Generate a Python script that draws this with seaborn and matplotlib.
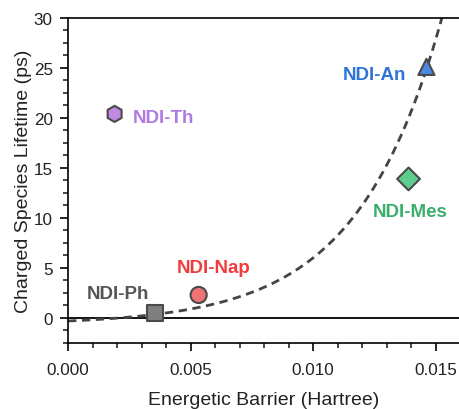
import numpy as np
import pandas as pd
import seaborn as sns
import matplotlib.pyplot as plt
from matplotlib.ticker import MultipleLocator

# data
molecules = ["NDI-Ph", "NDI-Nap", "NDI-Th", "NDI-An", "NDI-Mes"]
barrier = [0.00355, 0.00533, 0.0019, 0.01463, 0.0139]
lifetime = [0.5, 2.3, 20.4, 25.1, 13.9]
colors = ["#7f7f7f", "#f07272", "#c08ae3", "#4a88e6", "#5fcd8e"]
text_colors = ["#555555", "#f03c3c", "#b07be0", "#2f74d9", "#3aae6a"]
markers = ["s", "o", "h", "^", "D"]

# exponential fit y = a*exp(b*x) + c (parameters)
fit_a, fit_b, fit_c = 0.367, 290.0, -0.67

sns.set_style("ticks")
plt.rcParams["font.family"] = ["Liberation Sans", "DejaVu Sans"]

df = pd.DataFrame({"molecule": molecules, "barrier": barrier, "lifetime": lifetime})

fig = plt.figure(figsize=(4.6, 4.1), dpi=100)
ax = fig.add_axes([0.148, 0.161, 0.852, 0.793])

ax.axhline(0, color="black", lw=1.3, zorder=1)

xfit = np.linspace(0, 0.0158, 200)
fit = pd.DataFrame({"x": xfit, "y": fit_a * np.exp(fit_b * xfit) + fit_c})
sns.lineplot(data=fit, x="x", y="y", ax=ax, color="#444444", lw=2,
             linestyle=(0, (3, 2)), zorder=2)

sns.scatterplot(data=df, x="barrier", y="lifetime", hue="molecule", style="molecule",
                palette=dict(zip(molecules, colors)), markers=dict(zip(molecules, markers)),
                s=135, edgecolor="#4a4a4a", linewidth=1.5, ax=ax, legend=False, zorder=3)

# labels next to points
label_pos = {"NDI-Ph": (0.00078, 2.4, "left"), "NDI-Nap": (0.00445, 5.0, "left"),
             "NDI-Th": (0.00265, 20.0, "left"), "NDI-An": (0.0138, 24.3, "right"),
             "NDI-Mes": (0.01245, 10.6, "left")}
for m, c in zip(molecules, text_colors):
    x, y, ha = label_pos[m]
    ax.text(x, y, m, color=c, fontsize=13.5, fontweight="bold", ha=ha, va="center")

ax.set_xlim(0, 0.016)
ax.set_ylim(-2.5, 30)
ax.xaxis.set_major_locator(MultipleLocator(0.005))
ax.xaxis.set_minor_locator(MultipleLocator(0.001))
ax.yaxis.set_major_locator(MultipleLocator(5))
ax.yaxis.set_minor_locator(MultipleLocator(1.25))
ax.xaxis.set_major_formatter(lambda v, p: f"{v:.3f}")
ax.tick_params(which="major", length=6, width=1.2, labelsize=12.3, colors="black",
               labelcolor="#222222", pad=5)
ax.tick_params(which="minor", length=3.5, width=1.2)
ax.tick_params(axis="x", which="major", pad=8)
for s in ["left", "bottom", "top"]:
    ax.spines[s].set_linewidth(1.2)
    ax.spines[s].set_color("black")
ax.spines["right"].set_visible(False)
ax.set_xlabel("Energetic Barrier (Hartree)", fontsize=14, color="#222222", labelpad=10)
ax.set_ylabel("Charged Species Lifetime (ps)", fontsize=14, color="#222222", labelpad=1)

fig.savefig("out.png", dpi=100)
